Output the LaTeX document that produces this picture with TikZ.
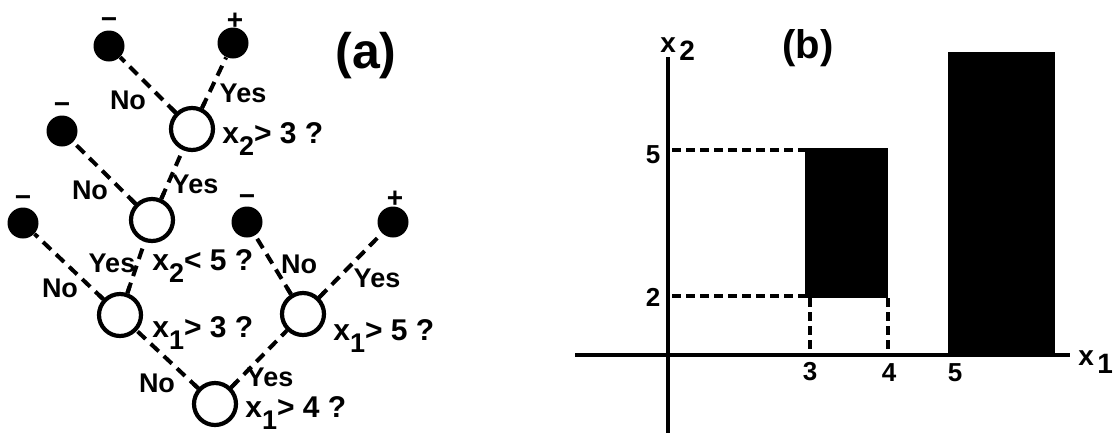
\documentclass[tikz,border=0pt]{standalone}
\usepackage{fontspec}
\setmainfont{Liberation Sans}
\usetikzlibrary{calc}
\newcommand{\xsub}[1]{x\raisebox{-0.4em}{\scalebox{0.9}{#1}}}
\newcommand{\axsub}[1]{x\kern0.12em\raisebox{-0.32em}{#1}}

\begin{document}
\begin{tikzpicture}[x=0.5pt, y=-0.5pt,
    leaf/.style={circle, fill=black, minimum size=15.5pt, inner sep=0pt},
    test/.style={circle, draw, fill=white, line width=2.1pt, minimum size=21pt, inner sep=0pt},
    link/.style={line width=2pt, dash pattern=on 5.5pt off 3.5pt},
    stub/.style={line width=2pt},
    sign/.style={font=\fontsize{14}{14}\selectfont\bfseries, inner sep=0pt},
    yn/.style={font=\fontsize{13.5}{13.5}\selectfont\bfseries, inner sep=0pt},
    cond/.style={font=\fontsize{15}{15}\selectfont\bfseries, anchor=base west, inner sep=0pt},
    axisline/.style={line width=2.2pt},
    guide/.style={line width=2pt, dash pattern=on 4.5pt off 2.5pt},
    ticklab/.style={font=\fontsize{13}{13}\selectfont\bfseries, inner sep=0pt}]
  \useasboundingbox (0,0) rectangle (1113,435);

  % (a) the tree
  \node[font=\fontsize{25}{25}\selectfont\bfseries, inner sep=0pt] (pa) at (366,56) {(a)};
  \node[leaf] (l1) at (109,46) {};
  \node[leaf] (l2) at (233,43) {};
  \node[leaf] (l3) at (62,131) {};
  \node[leaf] (l4) at (23,223) {};
  \node[leaf] (l5) at (247,222) {};
  \node[leaf] (l6) at (393,222) {};
  \node[sign] (s1) at (109,23) {−};
  \node[sign] (s2) at (235,21) {+};
  \node[sign] (s3) at (62,108) {−};
  \node[sign] (s4) at (23,201) {−};
  \node[sign] (s5) at (247,200) {−};
  \node[sign] (s6) at (395,199) {+};
  \node[test] (q1) at (192,129) {};
  \node[test] (q2) at (152,220) {};
  \node[test] (q3) at (120,315) {};
  \node[test] (q4) at (303,314) {};
  \node[test] (q5) at (215,404) {};
  \node[cond] (c1) at (222,143) {\xsub{2}> 3 ?};
  \node[cond] (c2) at (152,270) {\xsub{2}< 5 ?};
  \node[cond] (c3) at (152,337) {\xsub{1}> 3 ?};
  \node[cond] (c4) at (333,340) {\xsub{1}> 5 ?};
  \node[cond] (c5) at (245,417) {\xsub{1}> 4 ?};
  \foreach \lo/\up in {q1/l1, q1/l2, q2/l3, q2/q1, q3/l4, q3/q2, q4/l5, q4/l6, q5/q3, q5/q4} {
    \draw[link] (\lo) -- (\up);
    \draw[stub] (\lo) -- ($(\lo)!15pt!(\up)$);
  }
  \node[yn] (n1) at (128,100) {No};
  \node[yn] (y1) at (243,93) {Yes};
  \node[yn] (n2) at (90,190) {No};
  \node[yn] (y2) at (195,184) {Yes};
  \node[yn] (n3) at (60,288) {No};
  \node[yn] (y3) at (112,263) {Yes};
  \node[yn] (n4) at (299,264) {No};
  \node[yn] (y4) at (377,278) {Yes};
  \node[yn] (n5) at (157,383) {No};
  \node[yn] (y5) at (270,377) {Yes};

  % (b) the regions
  \node[font=\fontsize{20}{20}\selectfont\bfseries, inner sep=0pt] (pb) at (808,48) {(b)};
  \fill (805,148) rectangle (888,298);
  \fill (948,52) rectangle (1055,355);
  \draw[guide] (672,150) -- (805,150);
  \draw[guide] (672,296) -- (805,296);
  \draw[guide] (810,298) -- (810,355);
  \draw[guide] (888,298) -- (888,355);
  \draw[axisline] (575,355) -- (1070,355);
  \draw[axisline] (668,57) -- (668,433);
  \node[font=\fontsize{14}{14}\selectfont\bfseries, anchor=base west, inner sep=0pt] (ax2) at (660,52) {\axsub{2}};
  \node[font=\fontsize{14}{14}\selectfont\bfseries, anchor=base west, inner sep=0pt] (ax1) at (1078,365) {\axsub{1}};
  \node[ticklab] (k5) at (653,155) {5};
  \node[ticklab] (k2) at (653,297) {2};
  \node[ticklab] (k3) at (810,372) {3};
  \node[ticklab] (k4) at (889,373) {4};
  \node[ticklab] (k5b) at (955,373) {5};
\end{tikzpicture}
\end{document}
